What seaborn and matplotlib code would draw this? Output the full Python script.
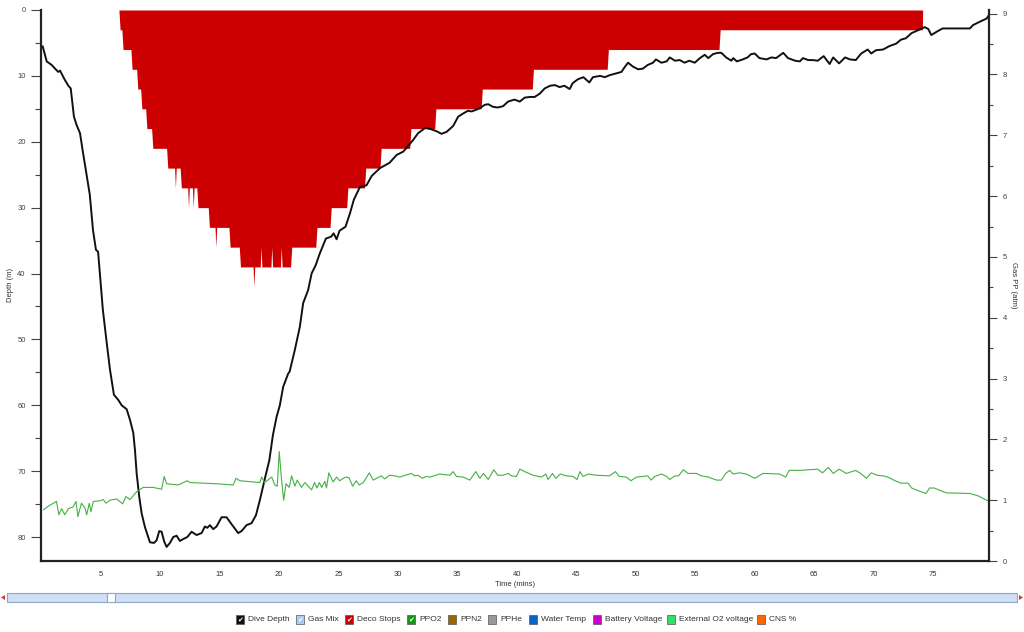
import numpy as np
import seaborn as sns
import matplotlib.pyplot as plt
from matplotlib.patches import Rectangle, Polygon

# Dive depth profile (time in minutes, depth in metres)
depth_time = [0.14, 0.48, 0.9, 1.18, 1.45, 1.6, 2.0, 2.3, 2.5, 2.77,
              3.0, 3.28, 3.5, 4.1, 4.37, 4.62, 4.8, 4.96, 5.2, 5.55,
              5.8, 6.13, 6.5, 6.78, 7.2, 7.48, 7.76, 7.9, 8.04, 8.26,
              8.46, 8.74, 9.16, 9.5, 9.72, 9.94, 10.14, 10.36, 10.56, 10.84,
              11.12, 11.4, 11.68, 11.96, 12.3, 12.66, 13.08, 13.5, 13.78, 13.98,
              14.2, 14.48, 14.76, 15.18, 15.6, 16.0, 16.58, 16.86, 17.28, 17.7,
              18.07, 18.4, 18.8, 19.2, 19.5, 19.8, 20.08, 20.36, 20.78, 20.9,
              21.34, 21.76, 22.04, 22.46, 22.75, 23.1, 23.45, 23.95, 24.4, 24.6,
              24.85, 25.1, 25.6, 25.97, 26.3, 26.8, 27.37, 27.8, 28.5, 29.3,
              29.9, 30.45, 30.7, 31.3, 31.7, 32.3, 32.8, 33.25, 33.67, 34.1,
              34.65, 35.07, 35.5, 35.9, 36.2, 36.5, 36.9, 37.3, 37.6, 38.0,
              38.4, 38.85, 39.27, 39.8, 40.25, 40.67, 41.1, 41.5, 41.93, 42.35,
              42.8, 43.2, 43.6, 44.0, 44.45, 44.7, 45.15, 45.6, 45.85, 46.1,
              46.4, 47.0, 47.4, 47.8, 48.2, 48.8, 49.1, 49.36, 49.77, 50.2,
              50.6, 51.0, 51.45, 51.7, 52.16, 52.6, 52.86, 53.3, 53.7, 54.1,
              54.5, 54.96, 55.4, 55.8, 56.1, 56.5, 56.9, 57.2, 57.6, 58.04,
              58.2, 58.5, 59.0, 59.4, 59.7, 60.0, 60.4, 61.0, 61.4, 61.8,
              62.4, 62.8, 63.4, 63.8, 64.06, 64.5, 64.9, 65.3, 65.8, 66.3,
              66.6, 67.1, 67.6, 68.0, 68.5, 68.96, 69.5, 69.8, 70.2, 70.8,
              71.3, 71.9, 72.3, 72.7, 73.2, 73.7, 74.3, 74.6, 74.85, 75.3,
              75.8, 76.4, 78.1, 78.35, 78.9, 79.5, 79.7]
depth_m = [5.5, 7.8, 8.35, 8.9, 9.4, 9.2, 10.6, 11.5, 11.9, 16.2,
           17.5, 18.7, 21.3, 28.0, 33.4, 36.4, 36.7, 40.2, 45.5, 50.9,
           54.6, 58.4, 59.2, 60.0, 60.6, 62.2, 64.2, 66.8, 70.3, 73.9,
           76.4, 78.5, 80.8, 80.9, 80.5, 79.1, 79.2, 80.7, 81.5, 80.9,
           80.0, 79.8, 80.6, 80.3, 80.0, 79.2, 79.7, 79.4, 78.4, 78.6,
           78.2, 78.8, 78.4, 77.0, 77.0, 78.0, 79.4, 79.1, 78.2, 77.9,
           76.7, 74.4, 71.3, 68.3, 64.5, 61.8, 60.0, 57.2, 55.2, 54.9,
           51.6, 48.1, 44.5, 42.5, 40.0, 38.7, 36.9, 34.7, 34.4, 33.9,
           34.8, 33.5, 32.9, 30.9, 28.8, 26.9, 26.6, 25.2, 24.0, 23.2,
           22.0, 21.5, 21.0, 19.7, 18.7, 17.9, 18.1, 18.4, 18.8, 18.5,
           17.6, 16.2, 15.7, 15.3, 15.4, 15.2, 14.9, 14.4, 14.3, 14.7,
           14.8, 14.6, 13.9, 13.6, 13.9, 13.3, 13.2, 13.2, 12.7, 11.9,
           11.5, 11.4, 11.7, 11.5, 12.0, 11.1, 10.5, 10.2, 10.6, 11.0,
           10.2, 10.0, 10.2, 9.9, 9.7, 9.4, 8.6, 8.0, 8.6, 9.0,
           8.9, 8.35, 8.0, 7.5, 8.0, 7.8, 7.2, 7.7, 7.6, 8.0,
           7.7, 8.0, 7.3, 6.8, 7.3, 6.7, 6.5, 6.5, 7.2, 7.7,
           7.3, 7.8, 7.5, 7.2, 6.7, 6.6, 7.3, 7.5, 7.2, 7.3,
           6.5, 7.3, 7.7, 7.8, 7.3, 7.6, 7.6, 7.7, 7.0, 8.2,
           7.2, 8.1, 7.2, 7.5, 7.6, 6.6, 6.0, 6.6, 6.1, 6.0,
           5.5, 5.1, 4.5, 4.3, 3.5, 3.1, 2.6, 2.9, 3.8, 3.3,
           2.8, 2.8, 2.8, 2.3, 1.8, 1.3, 0.76]

# Deco ceiling: stage start times and ceiling depths
deco_start = 6.55
deco_stage_time = [6.55, 6.8, 7.56, 8.04, 8.38, 8.8, 9.3, 10.56, 11.7, 13.1, 14.06, 15.8,
                   16.67, 20.98, 23.1, 24.3, 25.7, 27.2, 28.5, 31.0, 33.1, 37.0, 41.3,
                   47.6, 57.0]
deco_stage_depth = [3, 6, 9, 12, 15, 18, 21, 24, 27, 30, 33, 36,
                    39, 36, 33, 30, 27, 24, 21, 18, 15, 12, 9,
                    6, 3]
deco_end = 74.1
deco_spike_time = [11.3, 12.4, 12.8, 14.7, 17.9, 18.5, 19.4, 20.2]
deco_spike_depth = [27, 30, 30, 36, 42, 36, 36, 36]

# PPO2 (atm)
ppo2_time = [0.2, 0.6, 1.3, 1.5, 1.74, 2.0, 2.3, 2.7, 2.94, 3.1,
             3.4, 3.7, 3.84, 4.06, 4.2, 4.4, 4.96, 5.24, 5.46, 5.8,
             6.36, 6.86, 7.14, 7.48, 8.04, 8.6, 9.44, 10.14, 10.36, 10.56,
             11.54, 12.3, 12.52, 14.76, 16.16, 16.39, 16.72, 18.4, 18.55, 18.8,
             19.4, 19.66, 19.86, 20.03, 20.2, 20.4, 20.6, 20.87, 21.07, 21.34,
             21.54, 21.9, 22.18, 22.75, 23.0, 23.2, 23.4, 23.6, 23.87, 24.0,
             24.2, 24.56, 24.85, 25.1, 25.6, 25.9, 26.2, 26.5, 26.75, 27.1,
             27.6, 27.93, 28.6, 28.9, 29.3, 29.75, 30.17, 30.45, 31.15, 31.4,
             31.7, 32.07, 32.4, 32.7, 33.5, 34.37, 34.65, 34.93, 35.5, 36.05,
             36.55, 36.9, 37.2, 37.6, 38.07, 38.4, 38.85, 39.27, 39.55, 39.97,
             40.25, 40.67, 41.37, 42.07, 42.44, 42.63, 43.0, 43.28, 43.67, 44.17,
             44.73, 45.07, 45.3, 45.57, 46.0, 46.7, 47.8, 48.3, 48.6, 49.2,
             49.6, 50.06, 50.6, 51.0, 51.3, 51.6, 52.16, 52.6, 52.86, 53.3,
             53.6, 54.0, 54.4, 55.1, 55.5, 56.1, 56.8, 57.2, 57.56, 57.9,
             58.2, 58.7, 59.3, 60.0, 60.7, 62.1, 62.6, 62.9, 63.8, 64.6,
             65.3, 65.7, 66.2, 66.6, 67.1, 67.7, 68.5, 68.9, 69.4, 69.8,
             70.3, 70.8, 71.2, 71.8, 72.3, 72.9, 73.2, 73.7, 74.4, 74.7,
             75.1, 76.1, 78.1, 78.8, 79.6]
ppo2_atm = [0.84, 0.90, 0.98, 0.76, 0.86, 0.76, 0.86, 0.89, 0.98, 0.73,
            0.95, 0.87, 0.76, 0.95, 0.81, 0.98, 0.99, 1.01, 0.95, 1.00,
            1.02, 0.94, 1.06, 1.01, 1.14, 1.21, 1.21, 1.18, 1.39, 1.27,
            1.25, 1.32, 1.29, 1.27, 1.25, 1.36, 1.32, 1.29, 1.38, 1.29,
            1.38, 1.25, 1.23, 1.80, 1.39, 1.00, 1.27, 1.21, 1.40, 1.23,
            1.33, 1.21, 1.29, 1.17, 1.29, 1.20, 1.29, 1.21, 1.31, 1.20,
            1.45, 1.30, 1.38, 1.32, 1.38, 1.37, 1.23, 1.32, 1.25, 1.29,
            1.45, 1.33, 1.40, 1.35, 1.41, 1.40, 1.38, 1.40, 1.44, 1.40,
            1.41, 1.36, 1.39, 1.38, 1.43, 1.41, 1.47, 1.39, 1.38, 1.33,
            1.47, 1.36, 1.44, 1.34, 1.50, 1.41, 1.41, 1.44, 1.40, 1.39,
            1.51, 1.47, 1.41, 1.38, 1.43, 1.34, 1.44, 1.36, 1.43, 1.40,
            1.39, 1.34, 1.47, 1.39, 1.43, 1.41, 1.40, 1.47, 1.39, 1.38,
            1.32, 1.38, 1.39, 1.40, 1.33, 1.39, 1.43, 1.39, 1.34, 1.40,
            1.40, 1.50, 1.44, 1.44, 1.40, 1.38, 1.33, 1.33, 1.44, 1.49,
            1.43, 1.45, 1.43, 1.36, 1.44, 1.43, 1.38, 1.49, 1.49, 1.50,
            1.51, 1.45, 1.54, 1.44, 1.51, 1.44, 1.49, 1.44, 1.36, 1.45,
            1.41, 1.40, 1.38, 1.32, 1.28, 1.28, 1.20, 1.16, 1.11, 1.20,
            1.20, 1.12, 1.11, 1.07, 0.99]

legend_labels = ['Dive Depth', 'Gas Mix', 'Deco Stops', 'PPO2', 'PPN2', 'PPHe',
                 'Water Temp', 'Battery Voltage', 'External O2 voltage', 'CNS %']
legend_colors = ['#111111', '#a9cdf0', '#cc0000', '#119911', '#996600', '#999999',
                 '#0a64c8', '#cc00cc', '#33dd66', '#ff6600']
legend_checked = [True, True, True, True, False, False, False, False, False, False]
legend_box_x = [236, 296, 345, 407, 448, 488, 529, 593, 667, 757]

# build the deco ceiling polyline
ramp = 0.1
pts = [(deco_start, 0.0)]
prev = 0.0
for t, d in zip(deco_stage_time, deco_stage_depth):
    pts.append((t, prev))
    pts.append((t + ramp, d))
    prev = d
pts.append((deco_end, prev))
pts.append((deco_end + 0.02, 0.0))
for ts, sd in zip(deco_spike_time, deco_spike_depth):
    idx = max(i for i, t in enumerate(deco_stage_time) if t <= ts)
    base = deco_stage_depth[idx]
    pts += [(ts - 0.07, base), (ts, sd), (ts + 0.07, base)]
pts.sort(key=lambda p: p[0])
deco_t = np.array([p[0] for p in pts])
deco_d = np.array([p[1] for p in pts])

sns.set_style('white')
plt.rcParams['font.family'] = ['Liberation Sans', 'DejaVu Sans']

W, H = 1024, 632
fig = plt.figure(figsize=(W / 100, H / 100), dpi=100)


def fx(x):
    return x / W


def fy(y):
    return 1 - y / H


ax = fig.add_axes([fx(41), fy(561), (989 - 41) / W, (561 - 10) / H])
ax.fill_between(deco_t, 0, deco_d, color='#cc0000', lw=0, zorder=1)
sns.lineplot(x=depth_time, y=depth_m, ax=ax, color='#111111', lw=1.4,
             estimator=None, sort=False, legend=False, zorder=3)
ax.set_xlim(0, 79.7)
ax.set_ylim(83.64, 0)

ax2 = ax.twinx()
sns.lineplot(x=ppo2_time, y=ppo2_atm, ax=ax2, color='#45b045', lw=0.8,
             estimator=None, sort=False, legend=False)
ax2.set_ylim(0, 9.06)
ax2.set_xlim(0, 79.7)

for a in (ax, ax2):
    a.set_xlabel('')
    a.set_ylabel('')
    a.set_facecolor('none')
    for s in a.spines.values():
        s.set_visible(False)
ax.spines['left'].set_visible(True)
ax.spines['bottom'].set_visible(True)
ax2.spines['right'].set_visible(True)
for s in (ax.spines['left'], ax.spines['bottom'], ax2.spines['right']):
    s.set_color('#222222')
    s.set_linewidth(1.6)

ax.set_xticks(np.arange(5, 80, 5))
ax.set_xticks(np.arange(2.5, 80, 5), minor=True)
ax.set_yticks(np.arange(0, 90, 10))
ax.set_yticks(np.arange(5, 85, 10), minor=True)
ax2.set_yticks(np.arange(0, 10, 1))
ax2.set_yticks(np.arange(0.5, 9, 1), minor=True)

tick_kw = dict(direction='out', colors='#444444', labelsize=5.5, width=0.8)
ax.tick_params(axis='x', which='major', length=4, pad=3, **tick_kw)
ax.tick_params(axis='x', which='minor', length=4, **tick_kw)
ax.tick_params(axis='y', which='major', length=7, pad=4, **tick_kw)
ax.tick_params(axis='y', which='minor', length=4, **tick_kw)
ax2.tick_params(axis='y', which='major', length=6, pad=4, **tick_kw)
ax2.tick_params(axis='y', which='minor', length=3, **tick_kw)
ax.tick_params(axis='x', labelcolor='#333333')

fig.text(fx(10), fy(285), 'Depth (m)', rotation=90, fontsize=5.5, color='#333333',
         ha='center', va='center')
fig.text(fx(1014), fy(285), 'Gas PP (atm)', rotation=270, fontsize=5.5, color='#333333',
         ha='center', va='center')
fig.text(fx(515), fy(584), 'Time (mins)', fontsize=5.5, color='#333333',
         ha='center', va='center')

# scrollbar under the plot
bar_top, bar_bot = 593, 602
fig.patches.append(Rectangle((fx(7), fy(bar_bot)), (1017 - 7) / W, (bar_bot - bar_top) / H,
                             transform=fig.transFigure, facecolor='#cfe0f6',
                             edgecolor='#8da6c6', lw=0.8))
fig.patches.append(Rectangle((fx(107), fy(bar_bot)), 8 / W, (bar_bot - bar_top) / H,
                             transform=fig.transFigure, facecolor='white',
                             edgecolor='#8da6c6', lw=0.8))
fig.patches.append(Polygon([(fx(1), fy(597.5)), (fx(5), fy(595)), (fx(5), fy(600))],
                           closed=True, transform=fig.transFigure, facecolor='#e03030',
                           edgecolor='none'))
fig.patches.append(Polygon([(fx(1023), fy(597.5)), (fx(1019), fy(595)), (fx(1019), fy(600))],
                           closed=True, transform=fig.transFigure, facecolor='#e03030',
                           edgecolor='none'))

# legend row with checkboxes
for lab, col, chk, bx in zip(legend_labels, legend_colors, legend_checked, legend_box_x):
    fig.patches.append(Rectangle((fx(bx), fy(624)), 8 / W, 9 / H, transform=fig.transFigure,
                                 facecolor=col, edgecolor='#555555', lw=0.5))
    if chk:
        fig.text(fx(bx + 4), fy(619.5), '\u2714', fontsize=5, color='white',
                 ha='center', va='center', family='DejaVu Sans')
    fig.text(fx(bx + 12), fy(619.5), lab, fontsize=6, color='#333333',
             ha='left', va='center')

fig.savefig('out.png', dpi=100)
